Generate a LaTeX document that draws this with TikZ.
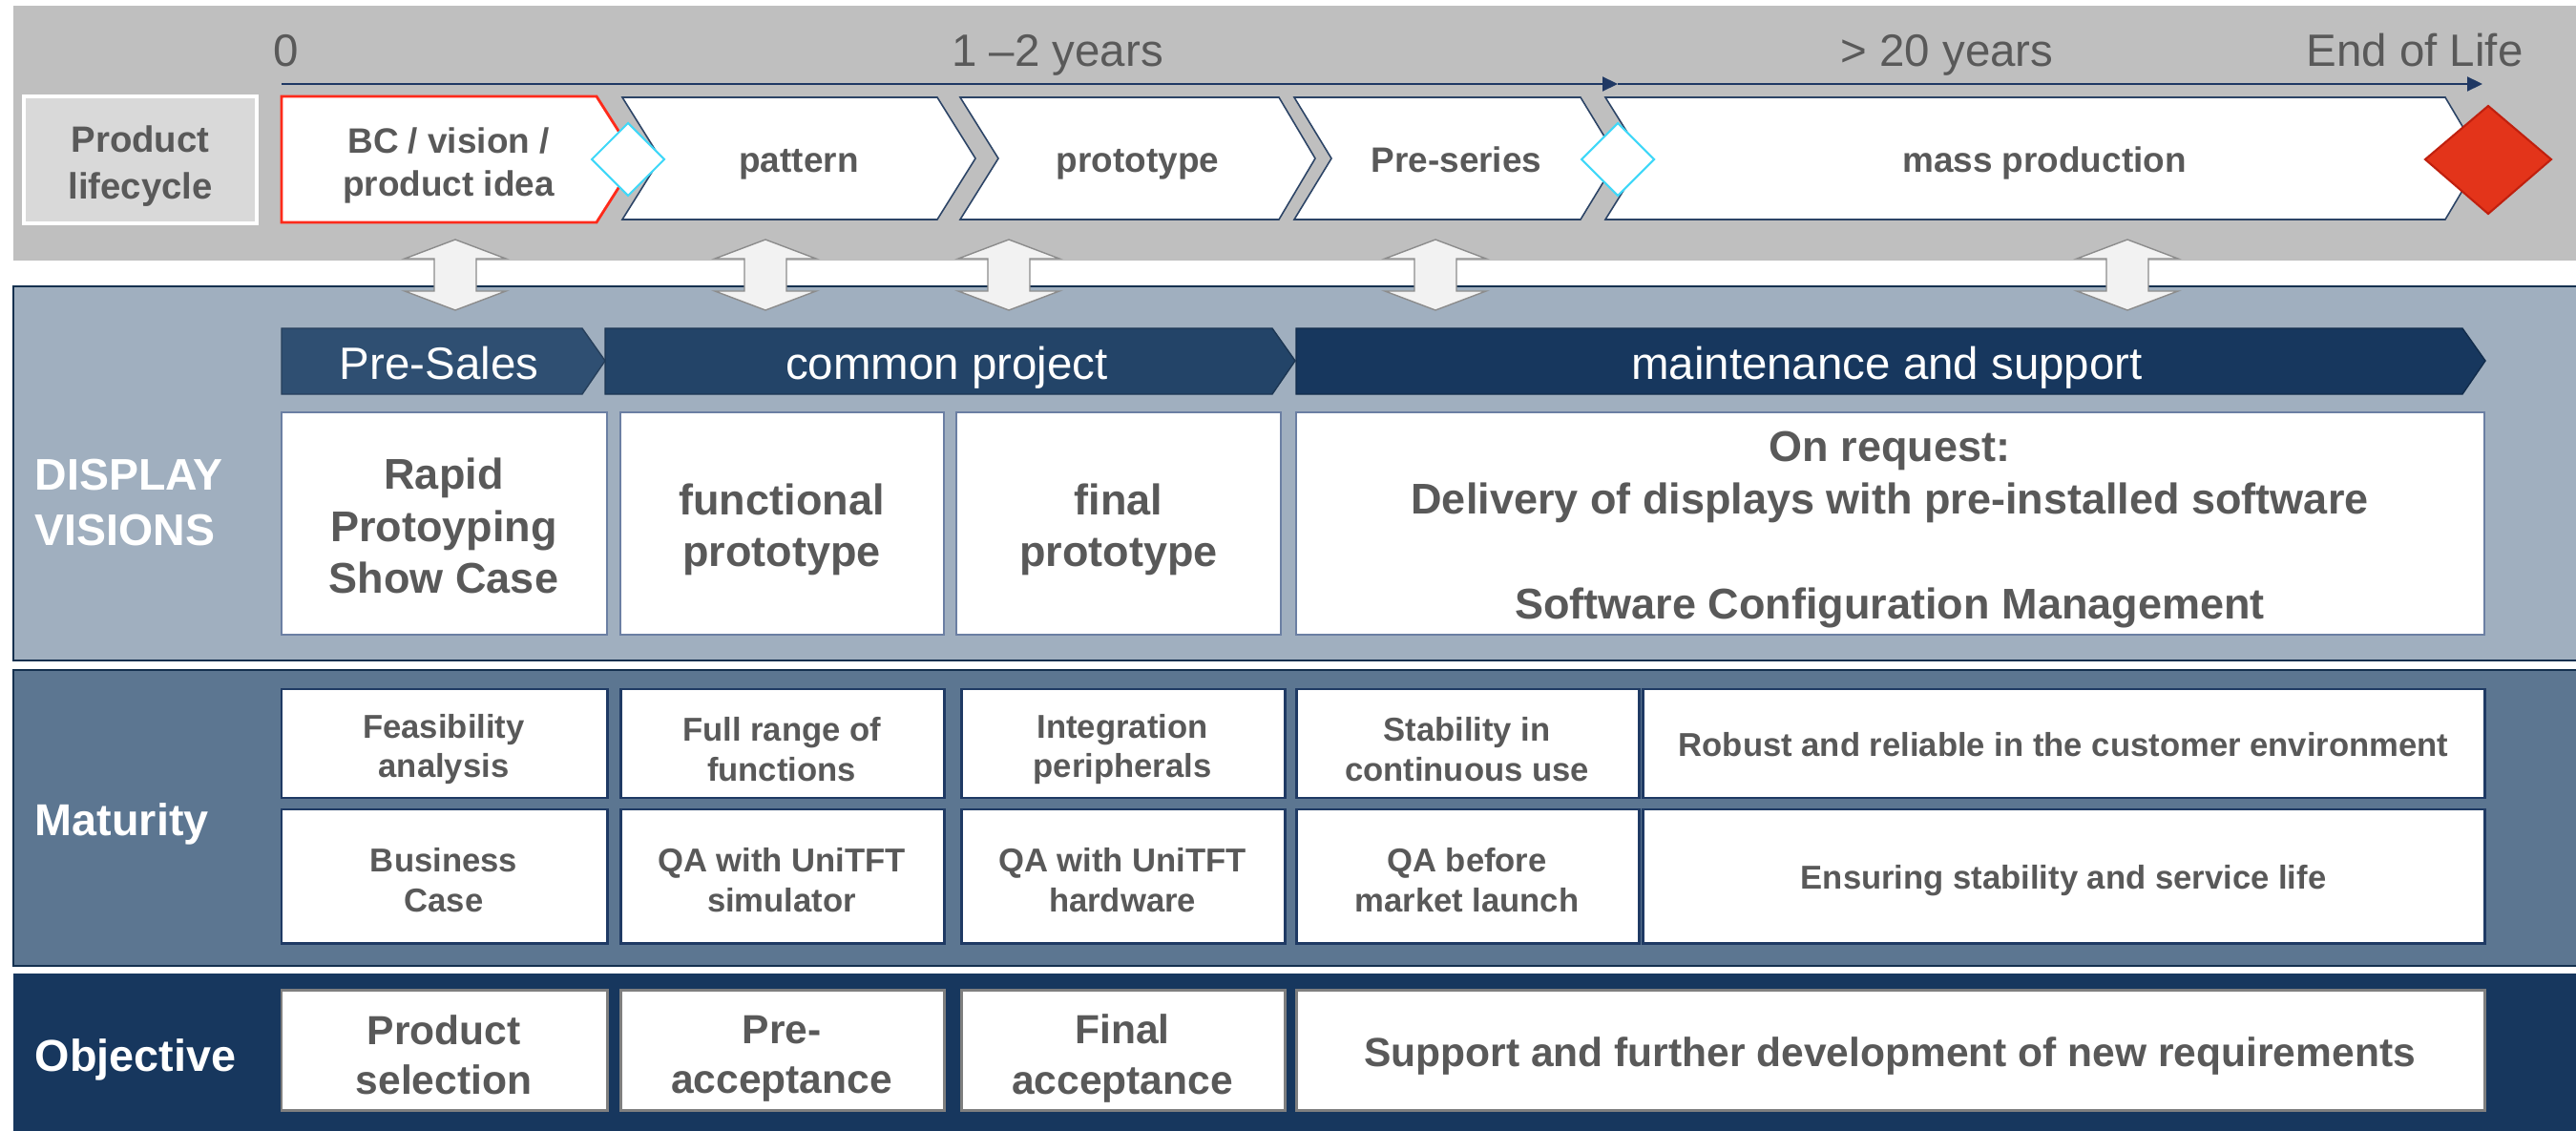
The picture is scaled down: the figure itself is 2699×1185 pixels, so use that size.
\documentclass[tikz,border=0pt]{standalone}
\usepackage{fontspec}
\setmainfont{Liberation Sans}
\usetikzlibrary{arrows.meta}
\definecolor{topgrey}{HTML}{BFBFBF}
\definecolor{plgrey}{HTML}{D9D9D9}
\definecolor{txtgrey}{HTML}{595959}
\definecolor{navy}{HTML}{1F3864}
\definecolor{chevline}{HTML}{2C4466}
\definecolor{cyanl}{HTML}{40D8F8}
\definecolor{eolred}{HTML}{E3341A}
\definecolor{eolredd}{HTML}{C0200E}
\definecolor{bcred}{HTML}{FF2A1A}
\definecolor{arrfill}{HTML}{F2F2F2}
\definecolor{arrdraw}{HTML}{8C8C8C}
\definecolor{dvfill}{HTML}{A0AFBF}
\definecolor{matfill}{HTML}{5C7691}
\definecolor{objfill}{HTML}{17375E}
\definecolor{presales}{HTML}{2F4F72}
\definecolor{common}{HTML}{234468}
\definecolor{maint}{HTML}{17375E}
\definecolor{dvboxdraw}{HTML}{6B7FA3}
\definecolor{matboxdraw}{HTML}{1F3A64}
\definecolor{objboxdraw}{HTML}{7F7F7F}
\definecolor{panelline}{HTML}{14304F}
\begin{document}
\begin{tikzpicture}[x=0.01cm,y=-0.01cm,
  hdr/.style={font=\fontsize{13.5}{16.2}\selectfont,text=txtgrey,anchor=base,inner sep=0pt},
  pltxt/.style={font=\bfseries\fontsize{10.9}{13.9}\selectfont,text=txtgrey,align=center,inner sep=0pt},
  chevtxt/.style={font=\bfseries\fontsize{10.5}{12.8}\selectfont,text=txtgrey,align=center,inner sep=0pt},
  chevone/.style={font=\bfseries\fontsize{10.5}{12.8}\selectfont,text=txtgrey,anchor=base,inner sep=0pt},
  sidetxt/.style={font=\bfseries\fontsize{13.2}{16.5}\selectfont,text=white,align=left,anchor=west,inner sep=0pt},
  sideone/.style={font=\bfseries\fontsize{13.3}{16.5}\selectfont,text=white,anchor=base west,inner sep=0pt},
  bantxt/.style={font=\fontsize{13.5}{16.2}\selectfont,text=white,anchor=base,inner sep=0pt},
  bigtxt/.style={font=\bfseries\fontsize{12.8}{15.5}\selectfont,text=txtgrey,align=center,inner sep=0pt},
  mattxt/.style={font=\bfseries\fontsize{9.85}{11.8}\selectfont,text=txtgrey,align=center,inner sep=0pt},
  matone/.style={font=\bfseries\fontsize{9.85}{11.8}\selectfont,text=txtgrey,anchor=base,inner sep=0pt},
  objtxt/.style={font=\bfseries\fontsize{12.1}{14.9}\selectfont,text=txtgrey,align=center,inner sep=0pt},
  objone/.style={font=\bfseries\fontsize{12.1}{14.9}\selectfont,text=txtgrey,anchor=base,inner sep=0pt},
  chevbox/.style={draw=chevline,line width=0.45pt,fill=white},
  redbox/.style={draw=bcred,line width=0.8pt,fill=white},
  cyandia/.style={draw=cyanl,line width=0.6pt,fill=white},
  reddia/.style={draw=eolredd,line width=0.6pt,fill=eolred},
  dblarr/.style={draw=arrdraw,line width=0.4pt,fill=arrfill},
  tline/.style={draw=navy,line width=0.6pt,-{Triangle[length=0.16cm,width=0.15cm]}},
  dvbox/.style={draw=dvboxdraw,line width=0.6pt,fill=white},
  matbox/.style={draw=matboxdraw,line width=0.85pt,fill=white},
  objbox/.style={draw=objboxdraw,line width=0.85pt,fill=white},
  panelborder/.style={draw=panelline,line width=0.6pt}
]
\useasboundingbox (0,0) rectangle (2699,1185);
\fill[white] (0,0) rectangle (2699,1185);

% ---------- top band ----------
\fill[topgrey] (14,6) rectangle (2699,273);
\draw[fill=plgrey,draw=white,line width=0.9pt] (25,101) rectangle (269,234);
\node[pltxt] (pl) at (147,174) {Product\\lifecycle};

\node[hdr] (h0) at (300,70) {0};
\node[hdr] (h1) at (1108,70) {1 –2 years};
\node[hdr] (h2) at (2040,70) {> 20 years};
\node[hdr] (h3) at (2530,70) {End of Life};

\coordinate (t0) at (295,88);
\coordinate (tm) at (1695,88);
\coordinate (te) at (2601,88);
\draw[tline] (t0) -- (tm);
\draw[tline] (tm) -- (te);

% chevrons
\draw[redbox] (295,101) -- (625,101) -- (667,167) -- (625,233) -- (295,233) -- cycle;
\draw[chevbox] (652,102) -- (982,102) -- (1022,166) -- (982,230) -- (652,230) -- (692,166) -- cycle;
\draw[chevbox] (1006,102) -- (1340,102) -- (1378,166) -- (1340,230) -- (1006,230) -- (1046,166) -- cycle;
\draw[chevbox] (1356,102) -- (1656,102) -- (1695,166) -- (1656,230) -- (1356,230) -- (1395,166) -- cycle;
\draw[chevbox] (1682,102) -- (2562,102) -- (2600,166) -- (2562,230) -- (1682,230) -- (1722,166) -- cycle;

\node[chevtxt] (c1) at (470,173) {BC / vision /\\product idea};
\node[chevone] (c2) at (837,181) {pattern};
\node[chevone] (c3) at (1192,181) {prototype};
\node[chevone] (c4) at (1526,181) {Pre-series};
\node[chevone] (c5) at (2142,181) {mass production};

% milestones
\draw[cyandia] (620,167) -- (658,129) -- (696,167) -- (658,205) -- cycle;
\draw[cyandia] (1657,167) -- (1695,129) -- (1733,167) -- (1695,205) -- cycle;
\draw[reddia] (2541,167) -- (2607,111) -- (2673,167) -- (2607,224) -- cycle;

% ---------- DISPLAY VISIONS panel ----------
\draw[panelborder,fill=dvfill] (14,300) rectangle (2710,692);
\node[sidetxt] (dv) at (36,527) {DISPLAY\\VISIONS};

\draw[draw=presales!80!black,line width=0.4pt,fill=presales] (295,344) -- (610,344) -- (634,378) -- (610,413) -- (295,413) -- cycle;
\draw[draw=common!80!black,line width=0.4pt,fill=common] (634,344) -- (1333,344) -- (1357,378) -- (1333,413) -- (634,413) -- cycle;
\draw[draw=maint!80!black,line width=0.4pt,fill=maint] (1358,344) -- (2580,344) -- (2604,378) -- (2580,413) -- (1358,413) -- cycle;
\node[bantxt] (b1) at (460,397) {Pre-Sales};
\node[bantxt] (b2) at (992,397) {common project};
\node[bantxt] (b3) at (1977,397) {maintenance and support};

\draw[dvbox] (295,432) rectangle (636,665);
\draw[dvbox] (650,432) rectangle (989,665);
\draw[dvbox] (1002,432) rectangle (1342,665);
\draw[dvbox] (1358,432) rectangle (2603,665);
\node[bigtxt] (d1) at (465,551) {Rapid\\Protoyping\\Show Case};
\node[bigtxt] (d2) at (819,555) {functional\\prototype};
\node[bigtxt] (d3) at (1172,555) {final\\prototype};
\node[bigtxt,font=\bfseries\fontsize{12.8}{15.7}\selectfont] (d4) at (1980,555) {On request:\\Delivery of displays with pre-installed software\\[15.7pt]Software Configuration Management};

% double arrows between band and panel
\foreach \cx/\nm in {477/a1,802/a2,1057/a3,1504/a4,2229/a5}{
  \draw[dblarr] (\cx,251) -- (\cx+53,271) -- (\cx+22,271) -- (\cx+22,305) -- (\cx+53,305)
     -- (\cx,325) -- (\cx-53,305) -- (\cx-22,305) -- (\cx-22,271) -- (\cx-53,271) -- cycle;
}

% ---------- Maturity panel ----------
\draw[panelborder,fill=matfill] (14,702) rectangle (2710,1012);
\node[sideone] (mat) at (36,875) {Maturity};

\draw[matbox] (295,722) rectangle (636,836);
\draw[matbox] (650,722) rectangle (989,836);
\draw[matbox] (1007,722) rectangle (1346,836);
\draw[matbox] (1358,722) rectangle (1717,836);
\draw[matbox] (1721,722) rectangle (2603,836);
\node[mattxt] (m11) at (465,785) {Feasibility\\analysis};
\node[mattxt] (m12) at (819,785) {Full range of\\functions};
\node[mattxt] (m13) at (1176,785) {Integration\\peripherals};
\node[mattxt] (m14) at (1537,785) {Stability in\\continuous use};
\node[matone] (m15) at (2162,792) {Robust and reliable in the customer environment};

\draw[matbox] (295,848) rectangle (636,988);
\draw[matbox] (650,848) rectangle (989,988);
\draw[matbox] (1007,848) rectangle (1346,988);
\draw[matbox] (1358,848) rectangle (1717,988);
\draw[matbox] (1721,848) rectangle (2603,988);
\node[mattxt] (m21) at (465,922) {Business\\Case};
\node[mattxt] (m22) at (819,922) {QA with UniTFT\\simulator};
\node[mattxt] (m23) at (1176,922) {QA with UniTFT\\hardware};
\node[mattxt] (m24) at (1537,922) {QA before\\market launch};
\node[matone] (m25) at (2162,931) {Ensuring stability and service life};

% ---------- Objective panel ----------
\fill[objfill] (14,1020) rectangle (2699,1185);
\node[sideone] (obj) at (36,1122) {Objective};

\draw[objbox] (295,1037) rectangle (636,1163);
\draw[objbox] (650,1037) rectangle (989,1163);
\draw[objbox] (1007,1037) rectangle (1346,1163);
\draw[objbox] (1358,1037) rectangle (2603,1163);
\node[objtxt] (o1) at (465,1105) {Product\\selection};
\node[objtxt] (o2) at (819,1109) {Pre-\\acceptance};
\node[objtxt] (o3) at (1176,1109) {Final\\acceptance};
\node[objone] (o4) at (1980,1117) {Support and further development of new requirements};
\end{tikzpicture}
\end{document}
